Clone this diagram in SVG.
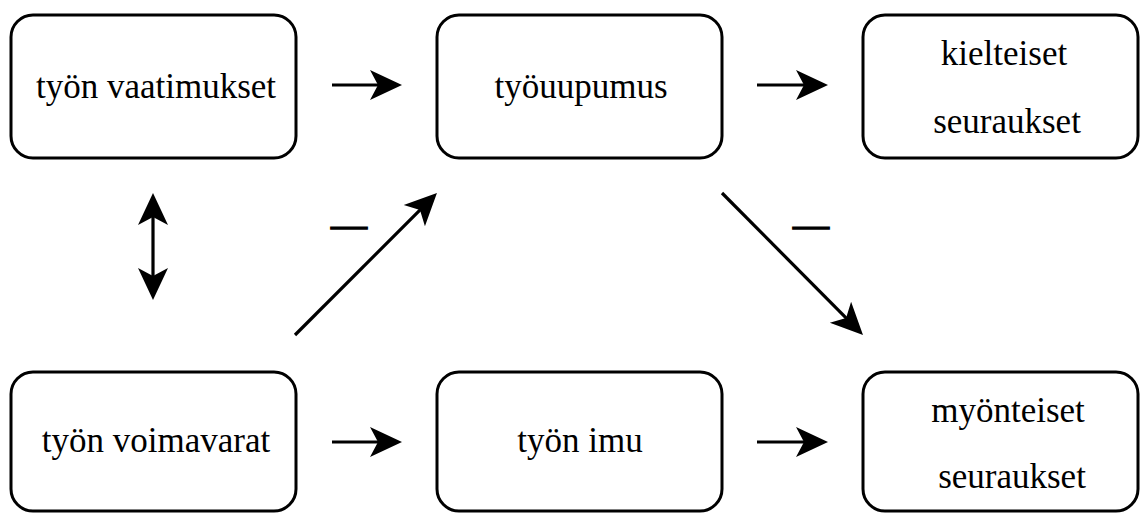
<svg xmlns="http://www.w3.org/2000/svg" width="1140" height="513" viewBox="0 0 1140 513">
<style>
.box{fill:#fff;stroke:#000;stroke-width:3}
text{font-family:"Liberation Serif",serif}
.lbl{font-size:35px;fill:#000;text-anchor:middle}
.conn{stroke:#000;stroke-width:3.2;fill:none}
.minus{font-size:36px;fill:#000;stroke:#000;stroke-width:1.4;text-anchor:middle}
</style>
<defs>
<marker id="arr" markerUnits="userSpaceOnUse" markerWidth="36" markerHeight="34" viewBox="-34 -17 36 34" refX="-22" refY="0" orient="auto-start-reverse">
<path d="M0,0 L-32,-15 L-24,0 L-32,15 Z" fill="#000"/>
</marker>
</defs>
<rect width="1140" height="513" fill="#fff"/>
<g id="node-vaatimukset">
<rect class="box" x="11" y="15" width="285" height="143" rx="22"/>
<text class="lbl" x="156" y="98" font-family="Liberation Serif">työn vaatimukset</text>
</g>
<g id="node-tyouupumus">
<rect class="box" x="437" y="15" width="285" height="143" rx="22"/>
<text class="lbl" x="581" y="98" font-family="Liberation Serif">työuupumus</text>
</g>
<g id="node-kielteiset">
<rect class="box" x="863" y="15" width="275" height="143" rx="22"/>
<text class="lbl" x="1004" y="65" font-family="Liberation Serif">kielteiset</text>
<text class="lbl" x="1007" y="133" font-family="Liberation Serif">seuraukset</text>
</g>
<g id="node-voimavarat">
<rect class="box" x="11" y="372" width="285" height="139" rx="22"/>
<text class="lbl" x="156" y="452" font-family="Liberation Serif">työn voimavarat</text>
</g>
<g id="node-imu">
<rect class="box" x="437" y="372" width="285" height="139" rx="22"/>
<text class="lbl" x="580" y="452" font-family="Liberation Serif">työn imu</text>
</g>
<g id="node-myonteiset">
<rect class="box" x="863" y="372" width="275" height="139" rx="22"/>
<text class="lbl" x="1008" y="422" font-family="Liberation Serif">myönteiset</text>
<text class="lbl" x="1012" y="488" font-family="Liberation Serif">seuraukset</text>
</g>
<g id="connectors">
<line class="conn" x1="332" y1="85" x2="380" y2="85" marker-end="url(#arr)"/>
<line class="conn" x1="757" y1="85" x2="806" y2="85" marker-end="url(#arr)"/>
<line class="conn" x1="332" y1="442" x2="380" y2="442" marker-end="url(#arr)"/>
<line class="conn" x1="757" y1="442" x2="806" y2="442" marker-end="url(#arr)"/>
<line class="conn" x1="153" y1="215" x2="153" y2="278" marker-start="url(#arr)" marker-end="url(#arr)"/>
<line class="conn" x1="295" y1="335" x2="421.4" y2="208.6" marker-end="url(#arr)"/>
<line class="conn" x1="722" y1="193" x2="847.5" y2="319.4" marker-end="url(#arr)"/>
<text class="minus" x="349" y="237" font-family="Liberation Serif">—</text>
<text class="minus" x="811" y="237" font-family="Liberation Serif">—</text>
</g>
</svg>
